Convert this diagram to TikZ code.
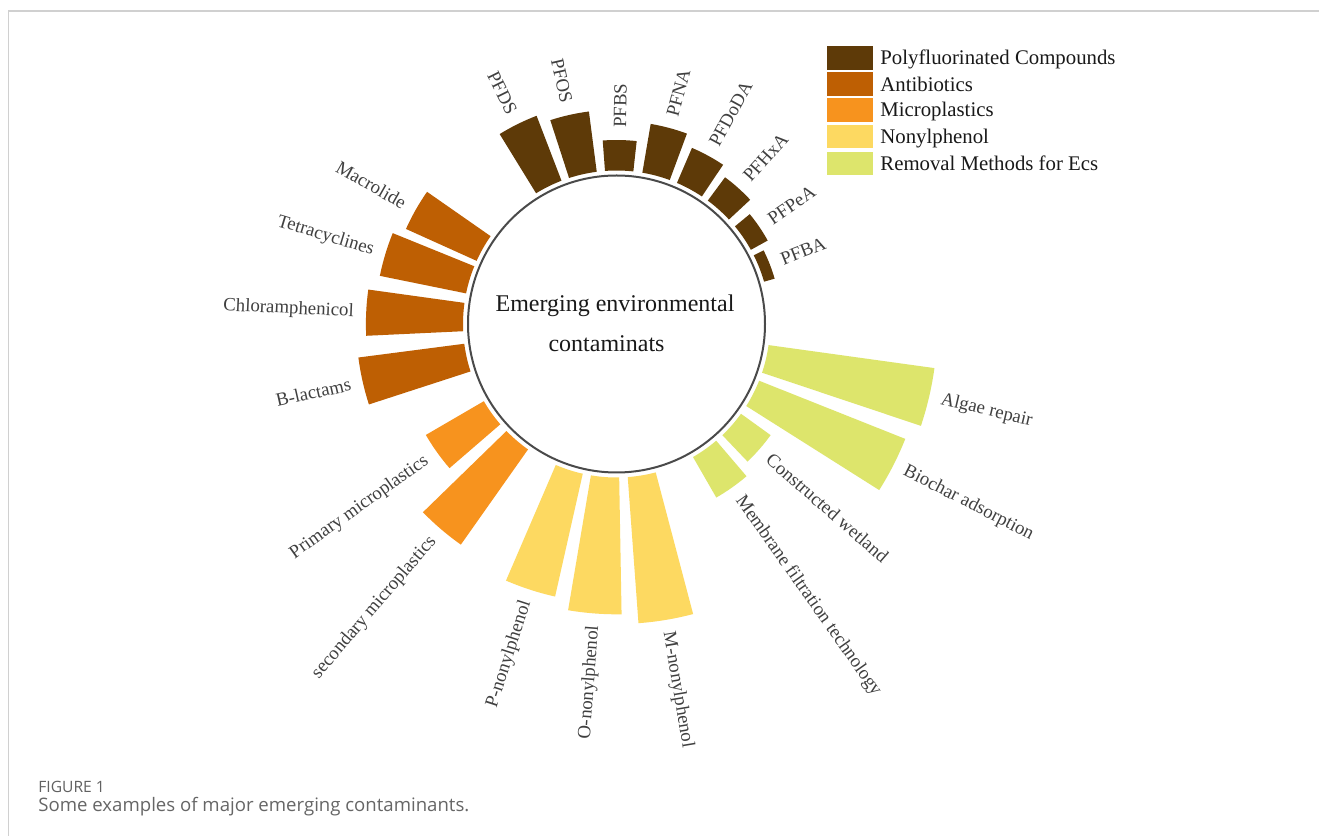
\documentclass[tikz,border=0pt]{standalone}
\usepackage{fontspec}
\setmainfont{Liberation Serif}
\newfontfamily\capfont{Open Sans}
\definecolor{pfc}{HTML}{5E3A08}
\definecolor{anti}{HTML}{BE5F03}
\definecolor{micro}{HTML}{F7931E}
\definecolor{nonyl}{HTML}{FDD961}
\definecolor{remov}{HTML}{DDE56C}
\definecolor{labgray}{HTML}{404040}
\definecolor{circgray}{HTML}{4A4A4A}
\definecolor{framegray}{HTML}{D0D0D0}
\definecolor{capgray}{HTML}{666666}
\begin{document}
\begin{tikzpicture}[x=0.5pt,y=0.5pt,
  lab/.style={font=\fontsize{9.4}{11}\selectfont, text=labgray, inner sep=0pt},
  legbox/.style={minimum width=23pt, minimum height=11.75pt, inner sep=0pt, draw=none},
  legtext/.style={font=\fontsize{10.4}{12}\selectfont, text=black!90, anchor=base west, inner sep=0pt},
  ttl/.style={font=\fontsize{12}{14}\selectfont, text=black!90, anchor=base, inner sep=0pt}]
\useasboundingbox (0,0) rectangle (1319,836);
\fill[white] (0,0) rectangle (1319,836);
\draw[framegray, line width=0.6pt] (8.5,0) -- (8.5,825) -- (1319,825);

\coordinate (c) at (616.5,512);
\begin{scope}[shift={(c)}]
\foreach \a/\r/\col/\t/\n in {
  21.3/164.5/pfc/PFBA/pfba,
  34.2/172.7/pfc/PFPeA/pfpea,
  48.2/182.5/pfc/PFHxA/pfhxa,
  61.5/191.6/pfc/PFDoDA/pfdoda,
  75/203/pfc/PFNA/pfna,
  89/184/pfc/PFBS/pfbs,
  102.7/214.3/pfc/PFOS/pfos,
  116.3/223/pfc/PFDS/pfds,
  150.4/231/anti/Macrolide/macro,
  163.2/241.5/anti/Tetracyclines/tetra,
  177.4/250.6/anti/Chloramphenicol/chloro,
  192.7/260.3/anti/B-lactams/blact,
  215.5/220.6/micro/Primary microplastics/primmp,
  229.5/270/micro/secondary microplastics/secmp,
  252/279.4/nonyl/P-nonylphenol/pnon,
  265.7/290.3/nonyl/O-nonylphenol/onon,
  279.5/300/nonyl/M-nonylphenol/mnon,
  305.2/200.2/remov/Membrane filtration technology/memb,
  318.9/190/remov/Constructed wetland/cwet,
  333/310.8/remov/Biochar adsorption/bioc,
  346.8/321/remov/Algae repair/algae}{
  \fill[\col] ({\a-5.3}:153.5) arc[start angle={\a-5.3}, end angle={\a+5.3}, radius=153.5]
     -- ({\a+5.3}:\r) arc[start angle={\a+5.3}, end angle={\a-5.3}, radius=\r] -- cycle;
  \pgfmathtruncatemacro\side{(\a>90 && \a<270) ? 1 : 0}
  \pgfmathsetmacro\rot{(\a>90 && \a<270) ? \a-180 : \a}
  \ifnum\side=1 \def\anc{east}\else\def\anc{west}\fi
  \node[lab, rotate=\rot, anchor=\anc] (\n) at ({\a}:{\r+12}) {\t};
}
\end{scope}

\node[circle, draw=circgray, line width=1pt, minimum size=148.5pt, inner sep=0pt] (hub) at (c) {};
\node[ttl] (title1) at (615,836-311.7) {Emerging environmental};
\node[ttl] (title2) at (606.5,836-351.7) {contaminats};

\foreach \y/\col/\t/\n in {58/pfc/Polyfluorinated Compounds/l1, 84.2/anti/Antibiotics/l2,
   110/micro/Microplastics/l3, 136.7/nonyl/Nonylphenol/l4, 163.3/remov/Removal Methods for Ecs/l5}{
  \node[legbox, fill=\col] (\n box) at (850,836-\y) {};
  \node[legtext] (\n txt) at (880,836-\y-7) {\t};
}

\node[anchor=base west, inner sep=0pt, font=\capfont\fontsize{7.8}{9}\selectfont, text=black!62] (fig) at (38,836-793) {FIGURE 1};
\node[anchor=base west, inner sep=0pt, font=\capfont\fontsize{9.3}{11}\selectfont, text=capgray] (cap) at (38,836-812) {Some examples of major emerging contaminants.};
\end{tikzpicture}
\end{document}
